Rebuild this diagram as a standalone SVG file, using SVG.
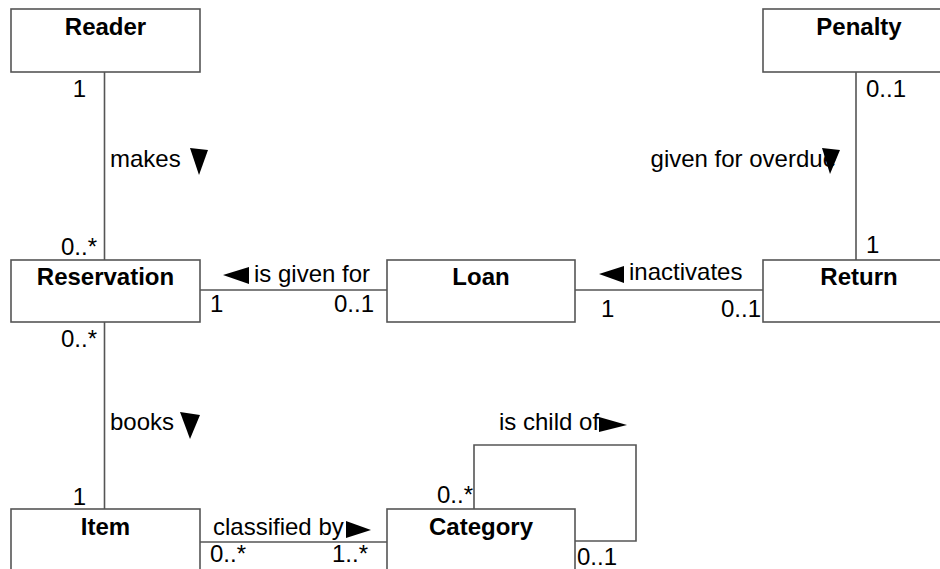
<svg xmlns="http://www.w3.org/2000/svg" width="940" height="569" viewBox="0 0 940 569">
  <style>
    .box { fill: #ffffff; stroke: #555555; stroke-width: 1.6; }
    .name { font-family: "Liberation Sans", Arial, sans-serif; font-size: 24px; font-weight: bold; fill: #000000; text-anchor: middle; }
    .lbl { font-family: "Liberation Sans", Arial, sans-serif; font-size: 24px; fill: #000000; }
    .end { text-anchor: end; }
    .wire { fill: none; stroke: #555555; stroke-width: 1.6; }
    .dir { fill: #000000; stroke: none; }
  </style>
  <rect width="940" height="569" fill="#ffffff"/>

  <!-- associations -->
  <g id="connectors">
    <!-- Reader - Reservation -->
    <line class="wire" x1="104.5" y1="72" x2="104.5" y2="260"/>
    <text class="lbl end" x="86" y="97">1</text>
    <text class="lbl" x="110" y="167">makes</text>
    <polygon class="dir" points="190,148 208,150 199,175"/>
    <text class="lbl end" x="97" y="255">0..*</text>

    <!-- Penalty - Return -->
    <line class="wire" x1="856" y1="72" x2="856" y2="260"/>
    <text class="lbl" x="866" y="97">0..1</text>
    <text class="lbl end" x="836" y="167">given for overdue</text>
    <polygon class="dir" points="822,148 840,150 830,174"/>
    <text class="lbl" x="866" y="253">1</text>

    <!-- Reservation - Loan -->
    <line class="wire" x1="200" y1="290" x2="387" y2="290"/>
    <polygon class="dir" points="223,275 249,267 249,284"/>
    <text class="lbl" x="254" y="282">is given for</text>
    <text class="lbl" x="210" y="312">1</text>
    <text class="lbl end" x="374" y="312">0..1</text>

    <!-- Loan - Return -->
    <line class="wire" x1="575" y1="290" x2="763" y2="290"/>
    <polygon class="dir" points="599,274 624,266 624,283"/>
    <text class="lbl" x="629" y="280">inactivates</text>
    <text class="lbl" x="601" y="317">1</text>
    <text class="lbl end" x="761" y="317">0..1</text>

    <!-- Reservation - Item -->
    <line class="wire" x1="104.5" y1="322" x2="104.5" y2="509"/>
    <text class="lbl end" x="97" y="347">0..*</text>
    <text class="lbl" x="110" y="430">books</text>
    <polygon class="dir" points="180,412 200,415 190,439"/>
    <text class="lbl end" x="86" y="505">1</text>

    <!-- Item - Category -->
    <line class="wire" x1="200" y1="542" x2="387" y2="542"/>
    <text class="lbl" x="213" y="535">classified by</text>
    <polygon class="dir" points="346,521 371,530 346,538"/>
    <text class="lbl" x="210" y="562">0..*</text>
    <text class="lbl end" x="368" y="562">1..*</text>

    <!-- Category self association -->
    <polyline class="wire" points="474,509 474,445 636,445 636,541 575,541"/>
    <text class="lbl" x="499" y="430">is child of</text>
    <polygon class="dir" points="599,417 627,425 599,432"/>
    <text class="lbl end" x="473" y="503">0..*</text>
    <text class="lbl" x="577" y="565">0..1</text>
  </g>

  <g id="reader">
    <rect class="box" x="11" y="9" width="189" height="63"/>
    <text class="name" x="105.5" y="35">Reader</text>
  </g>
  <g id="penalty">
    <rect class="box" x="763" y="9" width="189" height="63"/>
    <text class="name" x="859" y="35">Penalty</text>
  </g>
  <g id="reservation">
    <rect class="box" x="11" y="260" width="189" height="62"/>
    <text class="name" x="105.5" y="285">Reservation</text>
  </g>
  <g id="loan">
    <rect class="box" x="387" y="260" width="188" height="62"/>
    <text class="name" x="481" y="285">Loan</text>
  </g>
  <g id="return">
    <rect class="box" x="763" y="260" width="189" height="62"/>
    <text class="name" x="859" y="285">Return</text>
  </g>
  <g id="item">
    <rect class="box" x="11" y="509" width="189" height="63"/>
    <text class="name" x="105.5" y="535">Item</text>
  </g>
  <g id="category">
    <rect class="box" x="387" y="509" width="188" height="63"/>
    <text class="name" x="481" y="535">Category</text>
  </g>
</svg>
